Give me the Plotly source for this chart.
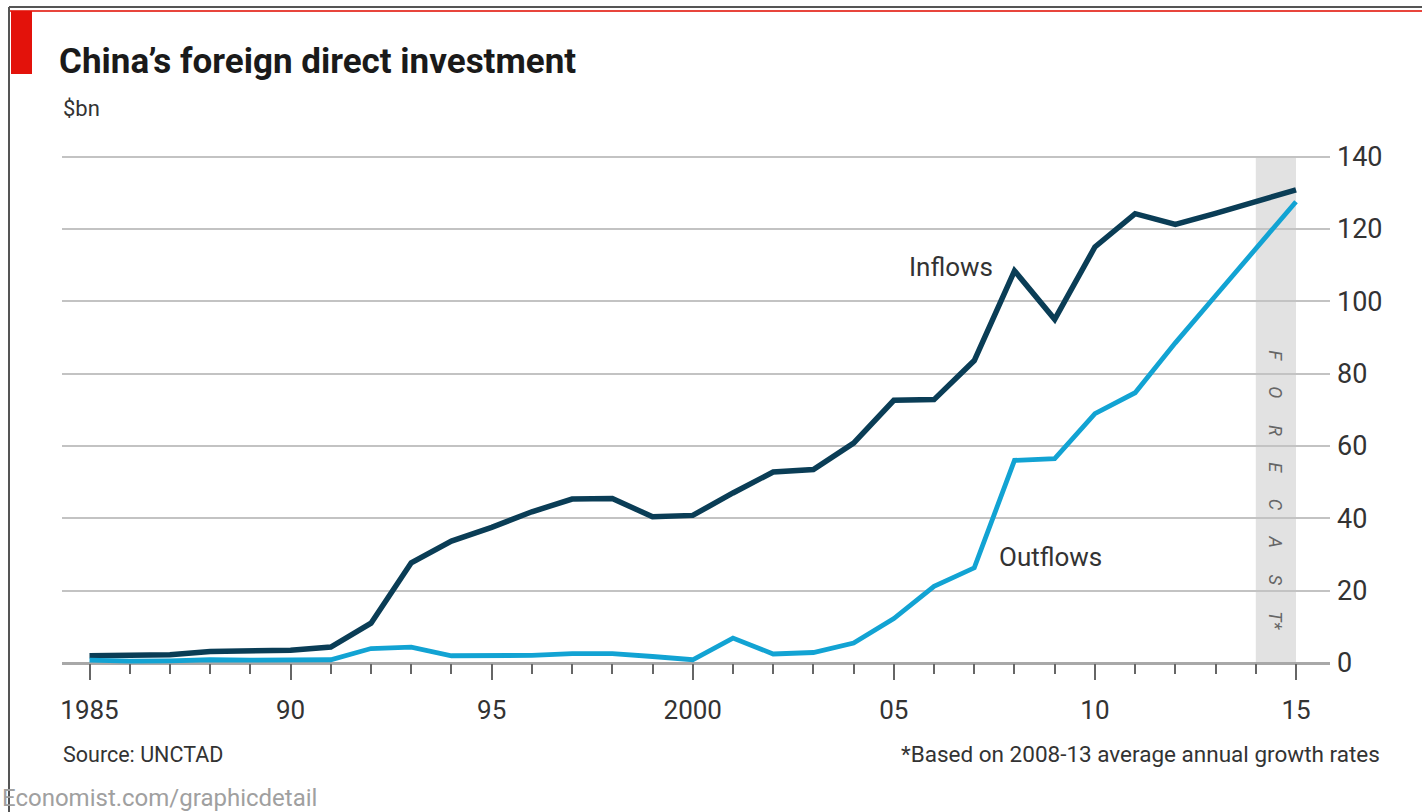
import plotly.graph_objects as go

# ---------------- data ----------------
years = list(range(1985, 2016))
inflows = [2.0, 2.2, 2.3, 3.2, 3.4, 3.5, 4.4, 11.0, 27.7, 33.7, 37.5, 41.8, 45.3, 45.5, 40.4,
           40.8, 47.0, 52.8, 53.5, 60.8, 72.6, 72.8, 83.6, 108.4, 95.0, 115.0, 124.2, 121.2,
           124.3, 127.6, 130.8]
outflows = [0.8, 0.5, 0.6, 0.9, 0.8, 0.8, 0.9, 4.0, 4.4, 2.0, 2.0, 2.1, 2.6, 2.6, 1.8,
            0.9, 6.9, 2.5, 2.9, 5.5, 12.3, 21.2, 26.3, 56.0, 56.5, 68.9, 74.7, 88.5,
            101.5, 114.6, 127.5]
tick_years = [1985, 1990, 1995, 2000, 2005, 2010, 2015]
tick_text = ["1985", "90", "95", "2000", "05", "10", "15"]
y_ticks = [0, 20, 40, 60, 80, 100, 120, 140]
forecast_start, forecast_end = 2014, 2015

# ---------------- layout helpers ----------------
W, H = 1422, 812
L, R, T, B = 62, 92, 151, 145
PW, PH = W - L - R, H - T - B


def pxx(x):
    return (x - L) / PW


def pyy(y):
    return (H - B - y) / PH


INFLOW_C = "#0a3d56"
OUTFLOW_C = "#12a3d3"
GRID_C = "#c3c3c3"
TEXT_C = "#333333"
FONT = "Roboto"

fig = go.Figure()
fig.add_trace(go.Scatter(x=years, y=inflows, mode="lines", name="Inflows",
                         line=dict(color=INFLOW_C, width=5.5), showlegend=False,
                         hoverinfo="skip"))
fig.add_trace(go.Scatter(x=years, y=outflows, mode="lines", name="Outflows",
                         line=dict(color=OUTFLOW_C, width=4.8), showlegend=False,
                         hoverinfo="skip"))

shapes = [
    # forecast band
    dict(type="rect", xref="x", yref="y", x0=forecast_start, x1=forecast_end,
         y0=0, y1=140, fillcolor="#e2e2e2", line=dict(width=0), layer="below"),
    # frame
    dict(type="line", xref="paper", yref="paper", x0=pxx(9), x1=pxx(W), y0=pyy(7), y1=pyy(7),
         line=dict(color="#555555", width=2)),
    dict(type="line", xref="paper", yref="paper", x0=pxx(9), x1=pxx(9), y0=pyy(7), y1=pyy(H),
         line=dict(color="#555555", width=2)),
    # red rule and tab
    dict(type="line", xref="paper", yref="paper", x0=pxx(10), x1=pxx(W), y0=pyy(11), y1=pyy(11),
         line=dict(color="#e8453c", width=2)),
    dict(type="rect", xref="paper", yref="paper", x0=pxx(11), x1=pxx(32), y0=pyy(74), y1=pyy(11),
         fillcolor="#e3120b", line=dict(width=0)),
]

annotations = [
    dict(text="China’s foreign direct investment", xref="paper", yref="paper",
         x=pxx(57), y=pyy(62), xanchor="left", yanchor="middle", showarrow=False,
         font=dict(family=FONT, size=35, color="#1a1a1a", weight="bold")),
    dict(text="$bn", xref="paper", yref="paper", x=pxx(61), y=pyy(108), xanchor="left",
         yanchor="middle", showarrow=False, font=dict(family=FONT, size=22, color=TEXT_C)),
    dict(text="Source: UNCTAD", xref="paper", yref="paper", x=pxx(61), y=pyy(754),
         xanchor="left", yanchor="middle", showarrow=False,
         font=dict(family=FONT, size=21.5, color=TEXT_C)),
    dict(text="*Based on 2008-13 average annual growth rates", xref="paper", yref="paper",
         x=pxx(1382), y=pyy(754), xanchor="right", yanchor="middle", showarrow=False,
         font=dict(family=FONT, size=22.5, color=TEXT_C)),
    dict(text="Economist.com/graphicdetail", xref="paper", yref="paper", x=pxx(0), y=pyy(798),
         xanchor="left", yanchor="middle", showarrow=False,
         font=dict(family=FONT, size=24, color="#a0a0a0")),
    dict(text="Inflows", xref="x", yref="y", x=2006.43, y=109.4, xanchor="center",
         yanchor="middle", showarrow=False, font=dict(family=FONT, size=26, color=TEXT_C)),
    dict(text="Outflows", xref="x", yref="y", x=2008.9, y=29.3, xanchor="center",
         yanchor="middle", showarrow=False, font=dict(family=FONT, size=26, color=TEXT_C)),
    dict(text=("\u00a0" * 6).join(["F", "O", "R", "E", "C", "A", "S", "T*"]), xref="x", yref="y",
         x=(forecast_start + forecast_end) / 2, y=47.8, textangle=90, xanchor="center",
         yanchor="middle", showarrow=False,
         font=dict(family=FONT, size=18, color="#666666", style="italic")),
]

fig.update_layout(
    width=W, height=H,
    margin=dict(l=L, r=R, t=T, b=B, pad=0),
    paper_bgcolor="white", plot_bgcolor="white",
    shapes=shapes, annotations=annotations,
    showlegend=False,
    xaxis=dict(range=[1985 - 27.5 / 40.217, 2015 + 34 / 40.217], anchor="free",
               position=pyy(663), showgrid=False, zeroline=False, showline=False,
               tickmode="array", tickvals=tick_years, ticktext=tick_text,
               ticks="outside", ticklen=16, tickwidth=1.5, tickcolor="#666666",
               ticklabelstandoff=8,
               tickfont=dict(family=FONT, size=26, color=TEXT_C),
               minor=dict(tickvals=years, ticks="outside", ticklen=10, tickwidth=1.5,
                          tickcolor="#666666", showgrid=False),
               fixedrange=True),
    yaxis=dict(range=[-4 / 3.6179, 140 + 5.5 / 3.6179], side="right", tickvals=y_ticks,
               showgrid=True, gridcolor=GRID_C, gridwidth=2,
               zeroline=True, zerolinecolor="#a8a8a8", zerolinewidth=2.5,
               showline=False, ticks="", ticklabelstandoff=6,
               tickfont=dict(family=FONT, size=27, color=TEXT_C), fixedrange=True),
)

fig.write_html("out.html", config={"displayModeBar": False},
               post_script="document.body.style.margin='0';document.body.style.overflow='hidden';")
